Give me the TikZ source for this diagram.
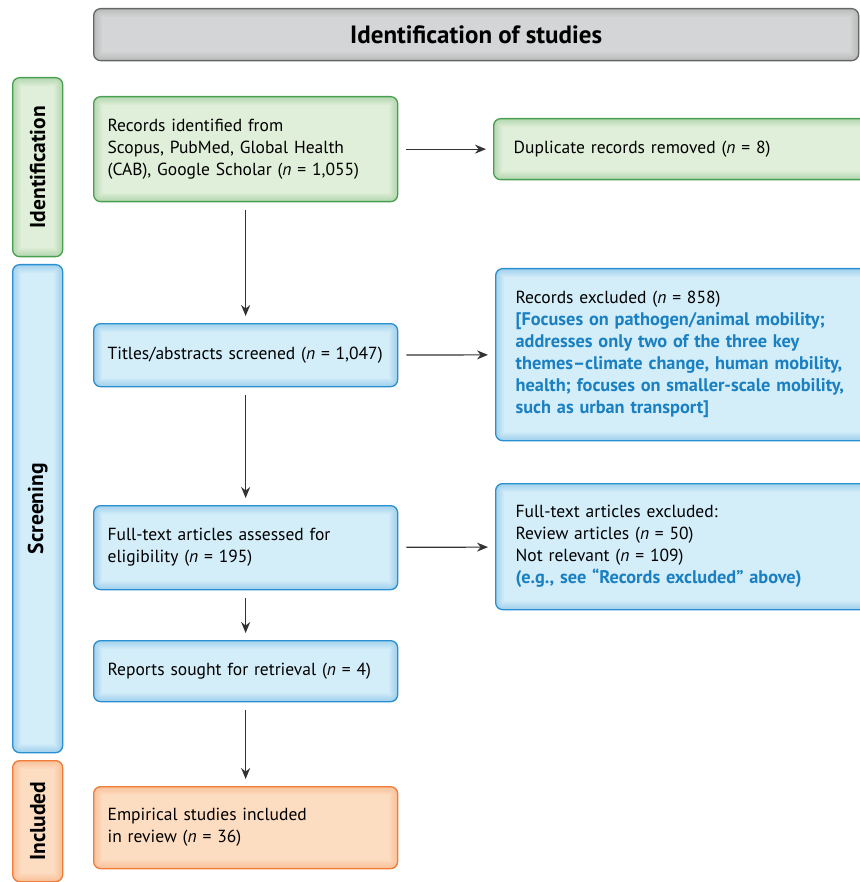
\documentclass[tikz,border=0pt]{standalone}
\usepackage{fontspec}
\setmainfont{PT Sans}
\usepackage{xcolor}
\usepackage{tikz}
\usetikzlibrary{positioning, arrows.meta}

\definecolor{idgreen}{HTML}{46A04E}
\definecolor{idgreenfill}{HTML}{E0EFD9}
\definecolor{scrblue}{HTML}{2A8FD0}
\definecolor{scrbluefill}{HTML}{D3EDF9}
\definecolor{incorange}{HTML}{F07C38}
\definecolor{incorangefill}{HTML}{FDDDC1}
\definecolor{headgray}{HTML}{D3D5D6}
\definecolor{notetext}{HTML}{1A80C2}
\newcommand{\notefont}{\color{notetext}\bfseries\fontsize{18.3}{22}\selectfont}

\begin{document}
\begin{tikzpicture}[
  x=1pt, y=-1pt,
  font=\fontsize{17.5}{22}\selectfont,
  glow/.style={path picture={
    \foreach \w in {16,12,8,4}
      \draw[#1, opacity=0.07, line width=\w pt] (path picture bounding box.south west)
        rectangle (path picture bounding box.north east);}},
  box/.style={draw, rounded corners=7pt, line width=1.3pt, anchor=north west,
    inner xsep=14pt, inner ysep=0pt, align=left},
  greenbox/.style={box, draw=idgreen, fill=idgreenfill, glow=idgreen},
  bluebox/.style={box, draw=scrblue, fill=scrbluefill, glow=scrblue},
  orangebox/.style={box, draw=incorange, fill=incorangefill, glow=incorange},
  sidebox/.style={box, inner xsep=20pt},
  tab/.style={draw, rounded corners=7pt, line width=1.3pt, anchor=north west,
    minimum width=50pt, inner sep=0pt},
  tablabel/.style={rotate=90, font=\fontsize{21.5}{24}\selectfont\bfseries},
  arrow/.style={-{Stealth[length=11pt, width=9pt]}, line width=1.2pt,
    draw=black!80, shorten <=8pt, shorten >=7pt},
]
  \useasboundingbox (0,0) rectangle (859,882);

  % header
  \node[draw=black!60, fill=headgray, glow=black!50, rounded corners=7pt, line width=1.3pt,
    anchor=north west, minimum width=765pt, minimum height=52pt,
    font=\fontsize{25}{28}\selectfont\bfseries] (head) at (93,8)
    {Identification of studies};

  % phase tabs
  \node[tab, draw=idgreen, fill=idgreenfill, glow=idgreen, minimum height=179pt] (tid) at (12,77) {};
  \node[tab, draw=scrblue, fill=scrbluefill, glow=scrblue, minimum height=488pt] (tscr) at (12,264) {};
  \node[tab, draw=incorange, fill=incorangefill, glow=incorange, minimum height=121pt] (tinc) at (12,760) {};
  \node[tablabel] at (tid.center) {Identification};
  \node[tablabel] at (tscr.center) {Screening};
  \node[tablabel] at (tinc.center) {Included};

  % main column
  \node[greenbox, minimum width=304pt, minimum height=105pt, text width=276pt] (rec) at (93,96)
    {Records identified from\\Scopus, PubMed, Global Health\\(CAB), Google Scholar (\textit{n}~=~1,055)};
  \node[bluebox, minimum width=304pt, minimum height=63pt, text width=276pt] (tit) at (93,323)
    {Titles/abstracts screened (\textit{n}~=~1,047)};
  \node[bluebox, minimum width=304pt, minimum height=84pt, text width=276pt] (full) at (93,505)
    {Full-text articles assessed for\\eligibility (\textit{n}~=~195)};
  \node[bluebox, minimum width=304pt, minimum height=61pt, text width=276pt] (rep) at (93,640)
    {Reports sought for retrieval (\textit{n}~=~4)};
  \node[orangebox, minimum width=304pt, minimum height=82pt, text width=276pt] (emp) at (93,786)
    {Empirical studies included\\in review (\textit{n}~=~36)};

  % exclusions
  \node[greenbox, sidebox, minimum width=376pt, minimum height=61pt, text width=336pt] (dup) at (493,118)
    {Duplicate records removed (\textit{n}~=~8)};
  \node[bluebox, sidebox, minimum width=374pt, minimum height=172pt, text width=334pt] (excl) at (495,268)
    {Records excluded (\textit{n}~=~858)\\
     \notefont [Focuses on pathogen/animal mobility;\\
     \notefont addresses only two of the three key\\
     \notefont themes--climate change, human mobility,\\
     \notefont health; focuses on smaller-scale mobility,\\
     \notefont such as urban transport]};
  \node[bluebox, sidebox, minimum width=374pt, minimum height=126pt, text width=334pt] (ftex) at (495,483)
    {Full-text articles excluded:\\
     Review articles (\textit{n}~=~50)\\
     Not relevant (\textit{n}~=~109)\\
     \notefont (e.g., see ``Records excluded'' above)};

  \draw[arrow] (rec) -- (tit);
  \draw[arrow] (tit) -- (full);
  \draw[arrow] (full) -- (rep);
  \draw[arrow] (rep) -- (emp);
  \draw[arrow] (rec) -- (dup);
  \draw[arrow] (tit) -- (excl);
  \draw[arrow] (full) -- (ftex);
\end{tikzpicture}
\end{document}
